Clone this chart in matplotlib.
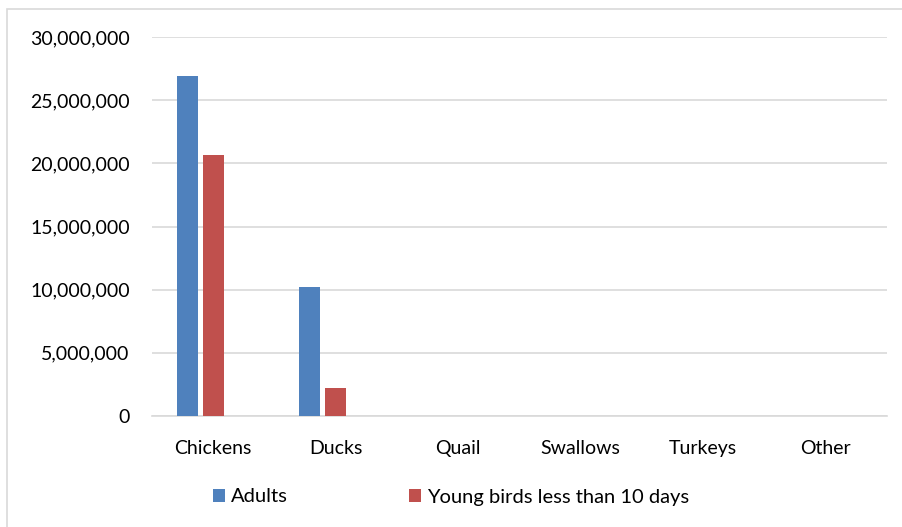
import numpy as np
import matplotlib.pyplot as plt
from matplotlib.patches import Rectangle
from matplotlib.ticker import FuncFormatter

categories = ["Chickens", "Ducks", "Quail", "Swallows", "Turkeys", "Other"]
adults = [26900000, 10250000, 0, 0, 0, 0]
young = [20650000, 2200000, 0, 0, 0, 0]
yticks = [0, 5000000, 10000000, 15000000, 20000000, 25000000, 30000000]

plt.rcParams['font.family'] = ['Lato', 'DejaVu Sans']

fig = plt.figure(figsize=(9.03, 5.27), dpi=100)
fig.patches.append(Rectangle((7 / 903, -0.05), 1.1, 1 - 9 / 527 + 0.05,
                             transform=fig.transFigure, fill=False,
                             edgecolor='#d9d9d9', linewidth=1.2))
ax = fig.add_axes([152 / 903, 1 - 416 / 527, (887 - 152) / 903, (416 - 37) / 527])

# excel leaves room for a third (empty) series, so bars sit left of centre
x = np.arange(len(categories))
w = 0.172
ax.bar(x - 0.213, adults, w, color='#4F81BD', label='Adults', zorder=3)
ax.bar(x, young, w, color='#C0504D', label='Young birds less than 10 days', zorder=3)

ax.set_xlim(-0.5, len(categories) - 0.5)
ax.set_ylim(0, 30000000)
ax.set_yticks(yticks)
ax.yaxis.set_major_formatter(FuncFormatter(lambda v, p: f"{int(v):,}"))
ax.set_xticks(x)
ax.set_xticklabels(categories)
ax.grid(axis='y', color='#d9d9d9', linewidth=1.2, zorder=0)
for s in ['top', 'right', 'left']:
    ax.spines[s].set_visible(False)
ax.spines['bottom'].set_color('#d9d9d9')
ax.spines['bottom'].set_linewidth(1.2)
ax.tick_params(axis='both', length=0, labelsize=14, colors='#000000')
ax.tick_params(axis='y', pad=16)
ax.tick_params(axis='x', pad=17)

ax.legend(loc='center left', bbox_to_anchor=(195 / 903, 30 / 527), bbox_transform=fig.transFigure,
          ncol=2, frameon=False, fontsize=14.5, handlelength=0.6, handleheight=0.6,
          handletextpad=0.3, columnspacing=6.0)

fig.savefig('out.png', dpi=100)
